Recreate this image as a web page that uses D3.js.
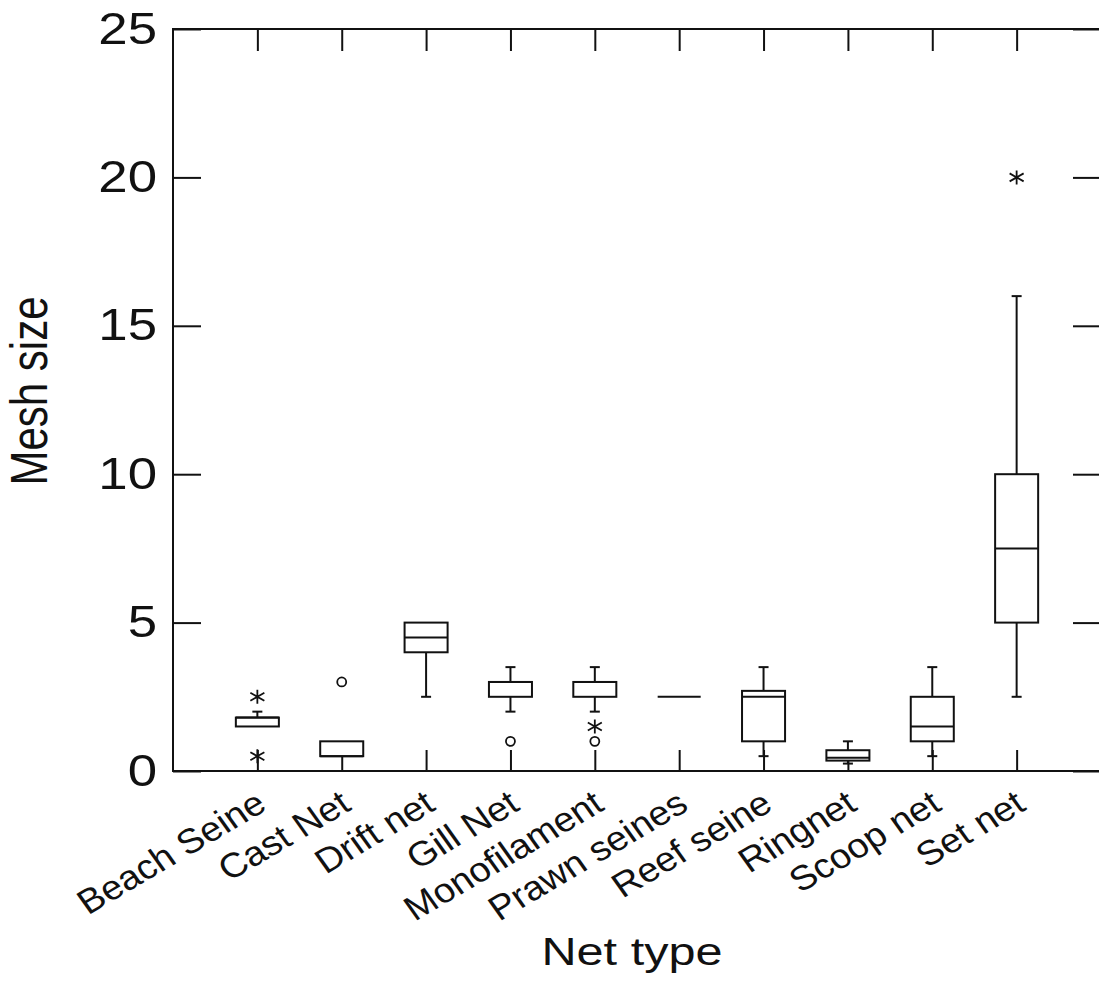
<!DOCTYPE html>
<html>
<head>
<meta charset="utf-8">
<script src="https://cdn.jsdelivr.net/npm/d3@7"></script>
<style>
  body { margin: 0; background: #fff; }
  text { font-family: "Liberation Sans", Arial, sans-serif; fill: #111; }
</style>
</head>
<body>
<svg id="chart"></svg>
<script>
var width = 1099;
var height = 982;

// box plot values
var categories = ["Beach Seine", "Cast Net", "Drift net", "Gill Net", "Monofilament",
                  "Prawn seines", "Reef seine", "Ringnet", "Scoop net", "Set net"];
var whiskerLow  = [1.5, 0.5, 2.5, 2.0, 2.0, 2.5, 0.5, 0.25, 0.5, 2.5];
var q1          = [1.5, 0.5, 4.0, 2.5, 2.5, 2.5, 1.0, 0.35, 1.0, 5.0];
var medians     = [1.8, 0.5, 4.5, 3.0, 3.0, 2.5, 2.5, 0.45, 1.5, 7.5];
var q3          = [1.8, 1.0, 5.0, 3.0, 3.0, 2.5, 2.7, 0.7, 2.5, 10.0];
var whiskerHigh = [2.0, 1.0, 5.0, 3.5, 3.5, 2.5, 3.5, 1.0, 3.5, 16.0];
// outside values: stars (far) and circles (near)
var starOutliers   = [["Beach Seine", 2.5], ["Beach Seine", 0.5], ["Monofilament", 1.5], ["Set net", 20]];
var circleOutliers = [["Cast Net", 3.0], ["Gill Net", 1.0], ["Monofilament", 1.0]];
var yTicks = [0, 5, 10, 15, 20, 25];

var plotLeft = 173, plotRight = 1101, plotTop = 29, plotBottom = 771;
var stretch = 1.2;

var svg = d3.select("#chart").attr("width", width).attr("height", height);

var x = d3.scalePoint().domain(categories).range([plotLeft, plotRight]).padding(1);
var y = d3.scaleLinear().domain([0, 25]).range([plotBottom, plotTop]);

var boxW = x.step() * 0.51;
var capW = 10;
var ink = "#111";

var rows = categories.map(function (c, i) {
  return { cat: c, lo: whiskerLow[i], q1: q1[i], med: medians[i], q3: q3[i], hi: whiskerHigh[i] };
});

// frame
svg.append("rect")
  .attr("x", plotLeft).attr("y", plotTop)
  .attr("width", plotRight - plotLeft).attr("height", plotBottom - plotTop)
  .style("fill", "none").style("stroke", ink).style("stroke-width", 2);

// y axes, ticks inside on both sides
var yLeft = svg.append("g").attr("transform", "translate(" + plotLeft + ",0)")
  .call(d3.axisLeft(y).tickValues(yTicks).tickSizeInner(-28).tickSizeOuter(0).tickPadding(16));
var yRight = svg.append("g").attr("transform", "translate(" + plotRight + ",0)")
  .call(d3.axisRight(y).tickValues(yTicks).tickSizeInner(-28).tickSizeOuter(0).tickFormat(""));
// x axes, ticks inside top and bottom
var xBottom = svg.append("g").attr("transform", "translate(0," + plotBottom + ")")
  .call(d3.axisBottom(x).tickSizeInner(-21).tickSizeOuter(0).tickFormat(""));
var xTop = svg.append("g").attr("transform", "translate(0," + plotTop + ")")
  .call(d3.axisTop(x).tickSizeInner(-22).tickSizeOuter(0).tickFormat(""));

[yLeft, yRight, xBottom, xTop].forEach(function (g) {
  g.select(".domain").remove();
  g.selectAll("line").style("stroke", ink).style("stroke-width", 2);
});

yLeft.selectAll("text")
  .style("font-size", "44px")
  .attr("fill", ink)
  .attr("x", -16 / stretch)
  .attr("transform", "scale(" + stretch + ",1)");

// category labels, rotated (and widened like the rest of the picture)
svg.append("g").selectAll("text")
  .data(categories)
  .enter()
  .append("text")
  .attr("transform", function (d) { return "translate(" + (x(d) + 11) + ",809) scale(1.1,1) rotate(-33)"; })
  .attr("text-anchor", "end")
  .style("font-size", "34.5px")
  .text(function (d) { return d; });

// whiskers
var boxes = svg.append("g").selectAll("g")
  .data(rows)
  .enter()
  .append("g")
  .style("stroke", ink).style("stroke-width", 2).style("fill", "none");

boxes.append("line")
  .attr("x1", function (d) { return x(d.cat); }).attr("x2", function (d) { return x(d.cat); })
  .attr("y1", function (d) { return y(d.hi); }).attr("y2", function (d) { return y(d.q3); });
boxes.append("line")
  .attr("x1", function (d) { return x(d.cat); }).attr("x2", function (d) { return x(d.cat); })
  .attr("y1", function (d) { return y(d.q1); }).attr("y2", function (d) { return y(d.lo); });
boxes.filter(function (d) { return d.hi > d.q3; }).append("line")
  .attr("x1", function (d) { return x(d.cat) - capW / 2; }).attr("x2", function (d) { return x(d.cat) + capW / 2; })
  .attr("y1", function (d) { return y(d.hi); }).attr("y2", function (d) { return y(d.hi); });
boxes.filter(function (d) { return d.lo < d.q1; }).append("line")
  .attr("x1", function (d) { return x(d.cat) - capW / 2; }).attr("x2", function (d) { return x(d.cat) + capW / 2; })
  .attr("y1", function (d) { return y(d.lo); }).attr("y2", function (d) { return y(d.lo); });

// boxes
boxes.filter(function (d) { return d.q3 > d.q1; }).append("rect")
  .attr("x", function (d) { return x(d.cat) - boxW / 2; })
  .attr("y", function (d) { return y(d.q3); })
  .attr("width", boxW)
  .attr("height", function (d) { return y(d.q1) - y(d.q3); })
  .style("fill", "#fff");
boxes.append("line")
  .attr("x1", function (d) { return x(d.cat) - boxW / 2; }).attr("x2", function (d) { return x(d.cat) + boxW / 2; })
  .attr("y1", function (d) { return y(d.med); }).attr("y2", function (d) { return y(d.med); });

// outliers
var star = "M0,-7L0,7M-7,-4L7,4M-7,4L7,-4";
svg.append("g").selectAll("path")
  .data(starOutliers)
  .enter()
  .append("path")
  .attr("d", star)
  .attr("transform", function (d) { return "translate(" + x(d[0]) + "," + y(d[1]) + ")"; })
  .style("stroke", ink).style("stroke-width", 1.8).style("fill", "none");

svg.append("g").selectAll("circle")
  .data(circleOutliers)
  .enter()
  .append("circle")
  .attr("cx", function (d) { return x(d[0]); })
  .attr("cy", function (d) { return y(d[1]); })
  .attr("r", 4.5)
  .style("stroke", ink).style("stroke-width", 1.8).style("fill", "#fff");

// axis titles
svg.append("text")
  .attr("transform", "translate(47," + ((plotTop + plotBottom) / 2 - 9) + ") scale(1.23,1) rotate(-90)")
  .attr("text-anchor", "middle")
  .style("font-size", "42px")
  .text("Mesh size");

svg.append("text")
  .attr("transform", "translate(" + ((plotLeft + plotRight) / 2 - 5) + ",965) scale(1.28,1)")
  .attr("text-anchor", "middle")
  .style("font-size", "38px")
  .text("Net type");
</script>
</body>
</html>
